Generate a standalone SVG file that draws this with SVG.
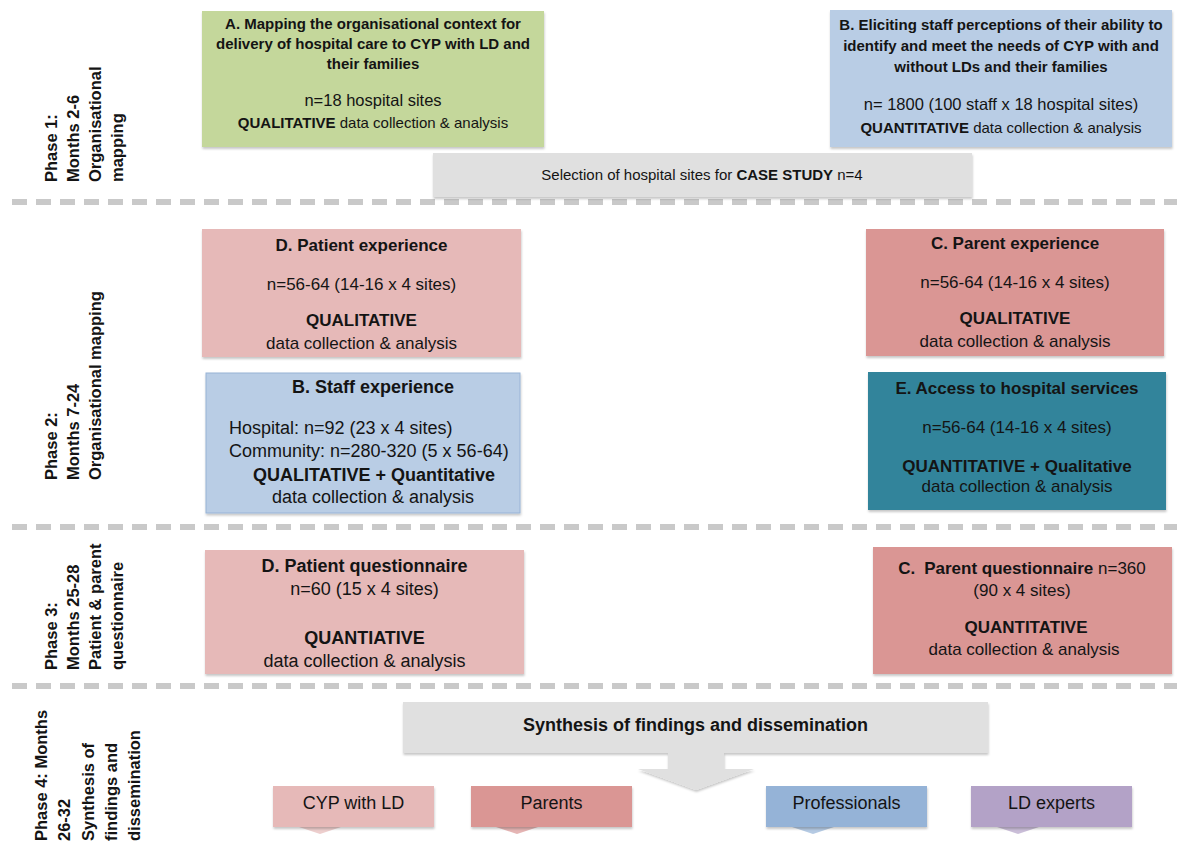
<svg xmlns="http://www.w3.org/2000/svg" width="1177" height="842" viewBox="0 0 1177 842">
<style>
text{font-family:"Liberation Sans",Arial,Helvetica,sans-serif;fill:#141414}
.b{font-weight:bold}
.c{text-anchor:middle}
.ph{font-size:16.5px;font-weight:bold}
.t1{font-size:15px}
.n1{font-size:16.5px}
.f17{font-size:17px}
.f18{font-size:18px}
.dash{stroke:#c9c9c9;stroke-width:6;stroke-dasharray:15 9;fill:none}
.box{filter:url(#sh)}
.wht{fill:#ffffff}
</style>
<defs>
<filter id="sh" x="-5%" y="-5%" width="110%" height="120%">
<feDropShadow dx="0.5" dy="2" stdDeviation="1" flood-color="#000" flood-opacity="0.22"/>
</filter>
</defs>
<rect width="1177" height="842" fill="#ffffff"/>

<g id="separators">
<line class="dash" x1="12" y1="202" x2="1177" y2="202"/>
<line class="dash" x1="12" y1="527" x2="1177" y2="527"/>
<line class="dash" x1="12" y1="686" x2="1177" y2="686"/>
</g>

<g id="phase-labels">
<g transform="translate(0,182) rotate(-90)">
<text class="ph" x="0" y="57">Phase 1:</text>
<text class="ph" x="0" y="79">Months 2-6</text>
<text class="ph" x="0" y="101">Organisational</text>
<text class="ph" x="0" y="123">mapping</text>
</g>
<g transform="translate(0,480) rotate(-90)">
<text class="ph" x="0" y="57">Phase 2:</text>
<text class="ph" x="0" y="79">Months 7-24</text>
<text class="ph" x="0" y="101">Organisational mapping</text>
</g>
<g transform="translate(0,670) rotate(-90)">
<text class="ph" x="0" y="57">Phase 3:</text>
<text class="ph" x="0" y="79">Months 25-28</text>
<text class="ph" x="0" y="101">Patient &amp; parent</text>
<text class="ph" x="0" y="123">questionnaire</text>
</g>
<g transform="translate(0,841) rotate(-90)">
<text class="ph" x="0" y="47">Phase 4: Months</text>
<text class="ph" x="0" y="70">26-32</text>
<text class="ph" x="0" y="94">Synthesis of</text>
<text class="ph" x="0" y="117">findings and</text>
<text class="ph" x="0" y="140">dissemination</text>
</g>
</g>

<g id="nodeA">
<rect class="box" x="202" y="11" width="342" height="136" fill="#c4d79b"/>
<text class="b c t1" x="373" y="29">A. Mapping the organisational context for</text>
<text class="b c t1" x="373" y="49">delivery of hospital care to CYP with LD and</text>
<text class="b c t1" x="373" y="69">their families</text>
<text class="c n1" x="373" y="106">n=18 hospital sites</text>
<text class="c t1" x="373" y="128"><tspan class="b">QUALITATIVE</tspan> data collection &amp; analysis</text>
</g>

<g id="nodeB1">
<rect class="box" x="830" y="10" width="342" height="137" fill="#b9cde5"/>
<text class="b c t1" x="1001" y="30">B. Eliciting staff perceptions of their ability to</text>
<text class="b c t1" x="1001" y="51">identify and meet the needs of CYP with and</text>
<text class="b c t1" x="1001" y="72">without LDs and their families</text>
<text class="c n1" x="1001" y="110">n= 1800 (100 staff x 18 hospital sites)</text>
<text class="c t1" x="1001" y="133"><tspan class="b">QUANTITATIVE</tspan> data collection &amp; analysis</text>
</g>

<g id="caseStudy">
<rect class="box" x="433" y="153" width="539" height="44" fill="#e0e0e0"/>
<text class="c t1" x="702" y="180">Selection of hospital sites for <tspan class="b">CASE STUDY</tspan> n=4</text>
</g>

<g id="nodeD2">
<rect class="box" x="202" y="229" width="319" height="128" fill="#e6b9b8"/>
<text class="b c f17" x="361.5" y="251">D. Patient experience</text>
<text class="c f17" x="361.5" y="290">n=56-64 (14-16 x 4 sites)</text>
<text class="b c f17" x="361.5" y="326">QUALITATIVE</text>
<text class="c f17" x="361.5" y="349">data collection &amp; analysis</text>
</g>

<g id="nodeC2">
<rect class="box" x="866" y="229" width="298" height="127" fill="#da9694"/>
<text class="b c f17" x="1015" y="249">C. Parent experience</text>
<text class="c f17" x="1015" y="288">n=56-64 (14-16 x 4 sites)</text>
<text class="b c f17" x="1015" y="324">QUALITATIVE</text>
<text class="c f17" x="1015" y="347">data collection &amp; analysis</text>
</g>

<g id="nodeB2">
<rect class="box" x="206" y="373" width="314" height="140" fill="#b9cde5" stroke="#98b3d6" stroke-width="1"/>
<text class="b c f18" x="373" y="393">B. Staff experience</text>
<text class="f18" x="229" y="434">Hospital: n=92 (23 x 4 sites)</text>
<text class="f18" x="229" y="457">Community: n=280-320 (5 x 56-64)</text>
<text class="b c f18" x="374" y="481">QUALITATIVE + Quantitative</text>
<text class="c f18" x="373" y="503">data collection &amp; analysis</text>
</g>

<g id="nodeE2">
<rect class="box" x="868" y="372" width="298" height="138" fill="#31849b"/>
<text class="b c f17" x="1017" y="394">E. Access to hospital services</text>
<text class="c f17" x="1017" y="433">n=56-64 (14-16 x 4 sites)</text>
<text class="b c f17" x="1017" y="472">QUANTITATIVE + Qualitative</text>
<text class="c f17" x="1017" y="492">data collection &amp; analysis</text>
</g>

<g id="nodeD3">
<rect class="box" x="205" y="550" width="319" height="124" fill="#e6b9b8"/>
<text class="b c f18" x="364.5" y="572">D. Patient questionnaire</text>
<text class="c f18" x="364.5" y="595">n=60 (15 x 4 sites)</text>
<text class="b c f18" x="364.5" y="644">QUANTIATIVE</text>
<text class="c f18" x="364.5" y="667">data collection &amp; analysis</text>
</g>

<g id="nodeC3">
<rect class="box" x="873" y="547" width="299" height="127" fill="#da9694"/>
<text class="c f17" x="1022" y="574"><tspan class="b">C.</tspan><tspan class="b" dx="9">Parent questionnaire</tspan> n=360</text>
<text class="c f17" x="1022" y="596">(90 x 4 sites)</text>
<text class="b c f17" x="1026" y="633">QUANTITATIVE</text>
<text class="c f17" x="1024" y="655">data collection &amp; analysis</text>
</g>

<g id="synthesis">
<path class="box" d="M403,702 H988 V753 H724 V769 H754 L696,790 L638,769 H668 V753 H403 Z" fill="#e0e0e0"/>
<text class="b c f18" x="695.5" y="731">Synthesis of findings and dissemination</text>
</g>

<g id="audienceCYP">
<polygon points="299,827 341,827 320,834" fill="#e6b9b8" opacity="0.7"/>
<rect class="box" x="273" y="786" width="161" height="41" fill="#e6b9b8"/>
<text class="c f18" x="353.5" y="809">CYP with LD</text>
</g>
<g id="audienceParents">
<polygon points="496,827 538,827 517,834" fill="#da9694" opacity="0.7"/>
<rect class="box" x="471" y="786" width="161" height="41" fill="#da9694"/>
<text class="c f18" x="551.5" y="809">Parents</text>
</g>
<g id="audienceProfessionals">
<polygon points="792,827 834,827 813,834" fill="#95b3d7" opacity="0.7"/>
<rect class="box" x="766" y="786" width="161" height="41" fill="#95b3d7"/>
<text class="c f18" x="846.5" y="809">Professionals</text>
</g>
<g id="audienceLD">
<polygon points="997,827 1039,827 1018,834" fill="#b3a2c7" opacity="0.7"/>
<rect class="box" x="971" y="786" width="161" height="41" fill="#b3a2c7"/>
<text class="c f18" x="1051.5" y="809">LD experts</text>
</g>
</svg>
